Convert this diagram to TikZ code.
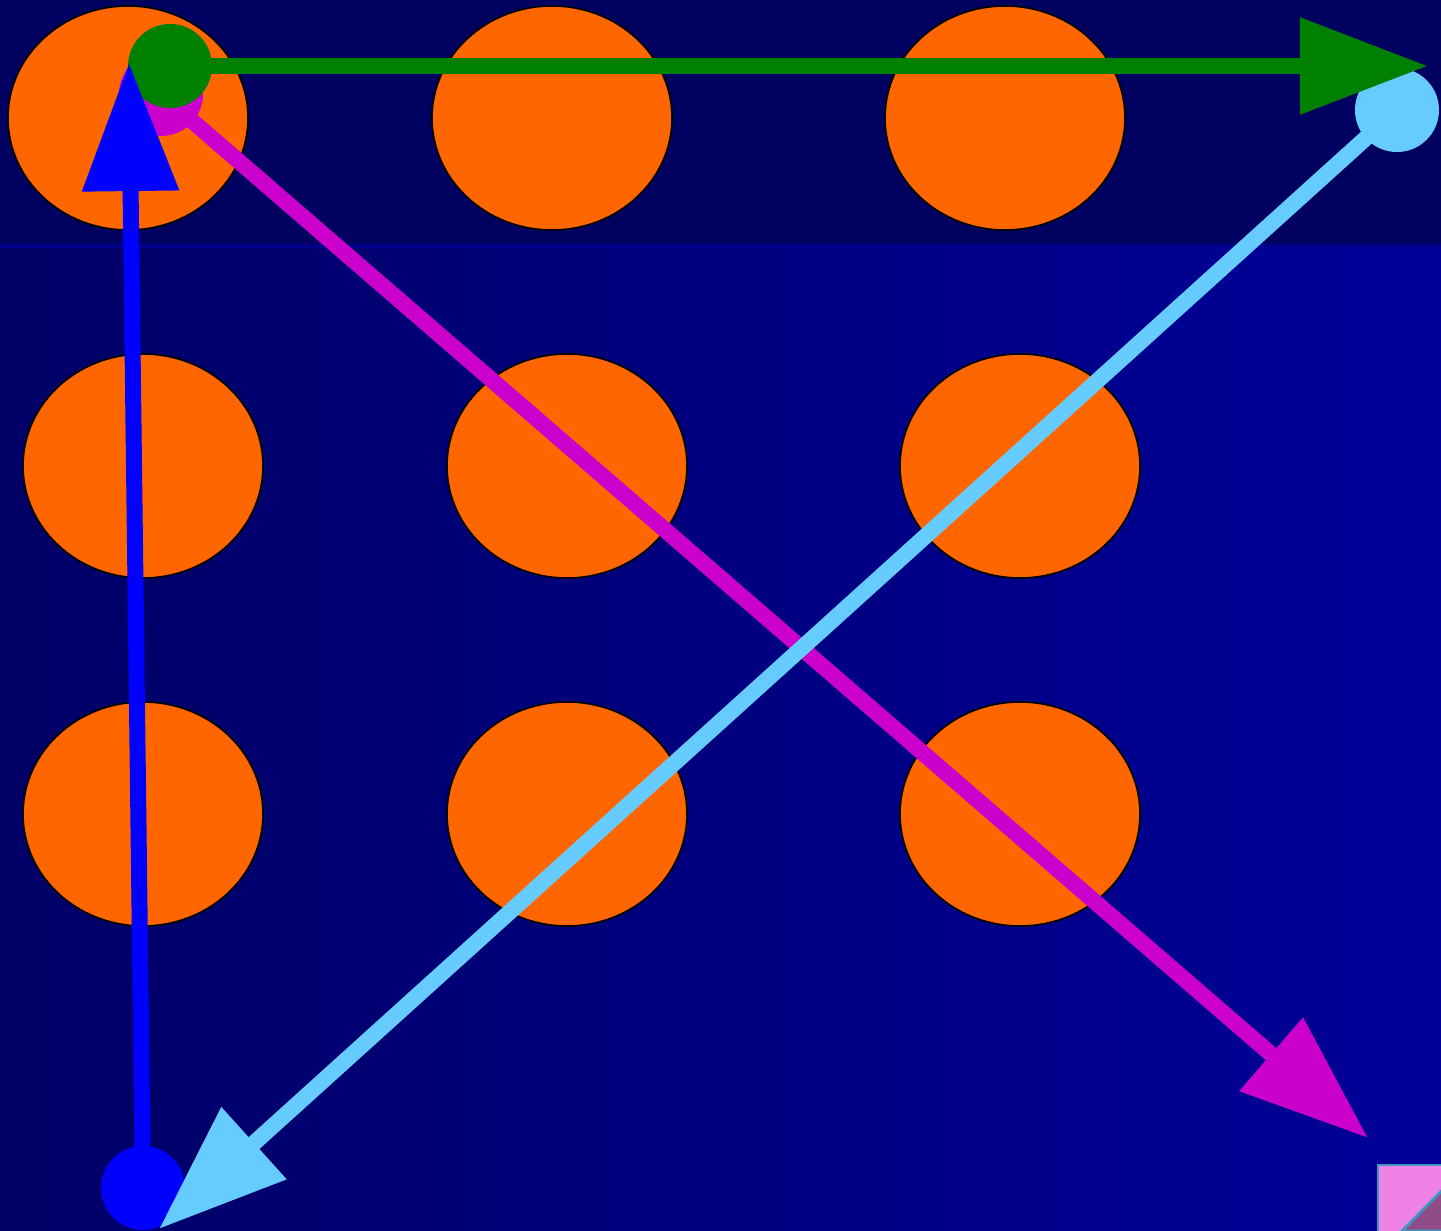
\documentclass[tikz,border=0pt]{standalone}
\usepackage{tikz}
\usetikzlibrary{arrows.meta, shapes.geometric}
\definecolor{BandNavy}{RGB}{0,0,96}
\definecolor{FieldLeft}{RGB}{0,0,102}
\definecolor{FieldRight}{RGB}{0,0,153}
\definecolor{EdgeBlue}{RGB}{0,0,140}
\definecolor{SpotOrange}{RGB}{255,102,0}
\definecolor{PathBlue}{RGB}{0,0,255}
\definecolor{PathGreen}{RGB}{0,128,0}
\definecolor{PathMagenta}{RGB}{204,0,204}
\definecolor{PathCyan}{RGB}{102,204,255}
\definecolor{CornerPink}{RGB}{238,130,230}
\definecolor{CornerMauve}{RGB}{144,76,136}
\definecolor{CornerTeal}{RGB}{64,150,190}
\tikzset{
	spot/.style={ellipse, draw=black, line width=0.5pt, fill=SpotOrange,
		minimum width=2.4cm, minimum height=2.24cm, inner sep=0pt},
	dot/.style={circle, minimum size=0.84cm, inner sep=0pt},
	stroke/.style={line width=0.16cm, -{Triangle[length=1.28cm, width=0.93cm]}}
}
\begin{document}
\begin{tikzpicture}[x=0.01cm, y=-0.01cm]
	\useasboundingbox (0,0) rectangle (1441,1231);
	% fondo
	\fill[BandNavy] (0,0) rectangle (1441,1231);
	\shade[left color=FieldLeft, right color=FieldRight] (0,246) rectangle (1441,1231);
	\draw[EdgeBlue, line width=1pt] (0,246) -- (1441,246);
	% puntos naranjas
	\node[spot] (s11) at (128,118) {};
	\node[spot] (s12) at (552,118) {};
	\node[spot] (s13) at (1005,118) {};
	\foreach \col/\x in {1/143, 2/567, 3/1020}{
		\node[spot] (s2\col) at (\x,466) {};
		\node[spot] (s3\col) at (\x,814) {};
	}
	% puntas
	\coordinate (btip) at (129,63);
	\coordinate (gtip) at (1428,66);
	\coordinate (mtip) at (1368,1138);
	\coordinate (ctip) at (159,1229);
	% trazo magenta, debajo del resto
	\node[dot, fill=PathMagenta] (mstart) at (161,94) {};
	\draw[stroke, PathMagenta] (mstart.center) -- (mtip);
	% inicios
	\node[dot, fill=PathGreen] (gstart) at (170,66) {};
	\node[dot, fill=PathBlue] (bstart) at (143,1188) {};
	\node[dot, fill=PathCyan] (cstart) at (1397,110) {};
	% trazos
	\draw[stroke, PathBlue] (bstart.center) -- (btip);
	\draw[stroke, PathGreen] (gstart.center) -- (gtip);
	\draw[stroke, PathCyan] (cstart.center) -- (ctip);
	% esquina
	\draw[CornerTeal, line width=0.8pt, fill=CornerPink] (1378,1165) rectangle (1460,1250);
	\draw[CornerTeal, line width=0.8pt, fill=CornerMauve] (1460,1172) -- (1402,1231) -- (1460,1231) -- cycle;
\end{tikzpicture}
\end{document}
